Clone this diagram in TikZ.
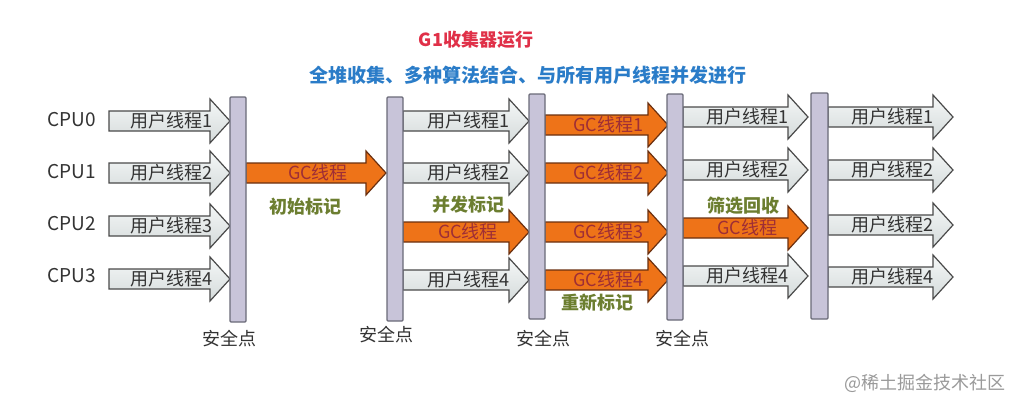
\documentclass[tikz,border=0pt]{standalone}
\usepackage{fontspec}
\setmainfont{Noto Sans CJK SC}
\definecolor{barfill}{HTML}{C8C4D9}
\definecolor{bardraw}{HTML}{6A6A78}
\definecolor{uafill}{HTML}{E4EBEB}
\definecolor{uadraw}{HTML}{4A4A4A}
\definecolor{gcfill}{HTML}{EE7318}
\definecolor{gcdraw}{HTML}{6B3010}
\definecolor{gctext}{HTML}{9E2E36}
\definecolor{phase}{HTML}{6C7E30}
\definecolor{titlered}{HTML}{E03048}
\definecolor{titleblue}{HTML}{2A7CC8}
\definecolor{txtgrey}{HTML}{333333}
\definecolor{wmgrey}{HTML}{9A9A9A}
\newcommand\blkarrow[6]{%
  \path[#5] ({#2},{#4-10}) -- ({#3-20},{#4-10}) -- ({#3-20},{#4-22}) -- ({#3},{#4})
    -- ({#3-20},{#4+22}) -- ({#3-20},{#4+10}) -- ({#2},{#4+10}) -- cycle;
  \node[inner sep=0pt] (#1) at ({(#2+#3)/2+2},{#4}) {#6};}
\begin{document}
\begin{tikzpicture}[x=1pt,y=-1pt,
  ua/.style={draw=uadraw,line width=1.2pt,top color=uafill!40!white,bottom color=uafill!85!gray,line join=miter},
  gc/.style={draw=gcdraw,line width=1.2pt,fill=gcfill,line join=miter},
  sbar/.style={draw=bardraw,fill=barfill,line width=1.2pt,rounded corners=1pt},
  cpu/.style={font=\fontsize{19}{22}\selectfont,text=txtgrey},
  sp/.style={font=\fontsize{18}{21}\selectfont,text=txtgrey},
  ph/.style={font=\bfseries\fontsize{18}{21}\selectfont,text=phase},
  ut/.style={font=\fontsize{18}{21}\selectfont,text=txtgrey},
  gt/.style={font=\fontsize{18}{21}\selectfont,text=gctext}]
\useasboundingbox (0,0) rectangle (1022,410);
\fill[white] (0,0) rectangle (1022,410);
% titles
\node[font=\bfseries\fontsize{18}{21}\selectfont,text=titlered] (t1) at (476,40) {G1收集器运行};
\node[font=\bfseries\fontsize{19}{22}\selectfont,text=titleblue] (t2) at (528,75) {全堆收集、多种算法结合、与所有用户线程并发进行};
% CPU labels
\node[cpu] (c0) at (72,120) {CPU0};
\node[cpu] (c1) at (72,172) {CPU1};
\node[cpu] (c2) at (72,224) {CPU2};
\node[cpu] (c3) at (72,276) {CPU3};
% column 1 user threads
\blkarrow{a1}{109}{230}{121}{ua}{\textcolor{txtgrey}{\fontsize{18}{21}\selectfont 用户线程1}}
\blkarrow{a2}{109}{230}{173}{ua}{\textcolor{txtgrey}{\fontsize{18}{21}\selectfont 用户线程2}}
\blkarrow{a3}{109}{230}{226}{ua}{\textcolor{txtgrey}{\fontsize{18}{21}\selectfont 用户线程3}}
\blkarrow{a4}{109}{230}{279}{ua}{\textcolor{txtgrey}{\fontsize{18}{21}\selectfont 用户线程4}}
% column 1 GC
\blkarrow{g1}{246}{386}{173}{gc}{\textcolor{gctext}{\fontsize{18}{21}\selectfont GC线程}}
\node[ph] (p1) at (305,207) {初始标记};
% column 2
\blkarrow{b1}{403}{529}{121}{ua}{\textcolor{txtgrey}{\fontsize{18}{21}\selectfont 用户线程1}}
\blkarrow{b2}{403}{529}{173}{ua}{\textcolor{txtgrey}{\fontsize{18}{21}\selectfont 用户线程2}}
\blkarrow{g2}{403}{529}{232}{gc}{\textcolor{gctext}{\fontsize{18}{21}\selectfont GC线程}}
\blkarrow{b4}{403}{529}{280}{ua}{\textcolor{txtgrey}{\fontsize{18}{21}\selectfont 用户线程4}}
\node[ph] (p2) at (468,205) {并发标记};
% column 3
\blkarrow{g31}{545}{668}{125}{gc}{\textcolor{gctext}{\fontsize{18}{21}\selectfont GC线程1}}
\blkarrow{g32}{545}{668}{173}{gc}{\textcolor{gctext}{\fontsize{18}{21}\selectfont GC线程2}}
\blkarrow{g33}{545}{668}{232}{gc}{\textcolor{gctext}{\fontsize{18}{21}\selectfont GC线程3}}
\blkarrow{g34}{545}{668}{280}{gc}{\textcolor{gctext}{\fontsize{18}{21}\selectfont GC线程4}}
\node[ph] (p3) at (597,303) {重新标记};
% column 4
\blkarrow{d1}{683}{808}{117}{ua}{\textcolor{txtgrey}{\fontsize{18}{21}\selectfont 用户线程1}}
\blkarrow{d2}{683}{808}{170}{ua}{\textcolor{txtgrey}{\fontsize{18}{21}\selectfont 用户线程2}}
\blkarrow{g4}{683}{808}{228}{gc}{\textcolor{gctext}{\fontsize{18}{21}\selectfont GC线程}}
\blkarrow{d4}{683}{808}{276}{ua}{\textcolor{txtgrey}{\fontsize{18}{21}\selectfont 用户线程4}}
\node[ph] (p4) at (743,206) {筛选回收};
% column 5
\blkarrow{e1}{828}{953}{117}{ua}{\textcolor{txtgrey}{\fontsize{18}{21}\selectfont 用户线程1}}
\blkarrow{e2}{828}{953}{170}{ua}{\textcolor{txtgrey}{\fontsize{18}{21}\selectfont 用户线程2}}
\blkarrow{e3}{828}{953}{225}{ua}{\textcolor{txtgrey}{\fontsize{18}{21}\selectfont 用户线程2}}
\blkarrow{e4}{828}{953}{277}{ua}{\textcolor{txtgrey}{\fontsize{18}{21}\selectfont 用户线程4}}
% safepoint bars
\draw[sbar] (230,97) rectangle (246,322);
\draw[sbar] (387,97) rectangle (403,321);
\draw[sbar] (529,94) rectangle (545,319);
\draw[sbar] (667,94) rectangle (683,320);
\draw[sbar] (811,93) rectangle (828,319);
\node[sp] (s1) at (229,339) {安全点};
\node[sp] (s2) at (386,335) {安全点};
\node[sp] (s3) at (543,339) {安全点};
\node[sp] (s4) at (682,339) {安全点};
% watermark
\node[font=\fontsize{18}{21}\selectfont,text=wmgrey] (wm) at (925,383) {@稀土掘金技术社区};
\end{tikzpicture}
\end{document}
